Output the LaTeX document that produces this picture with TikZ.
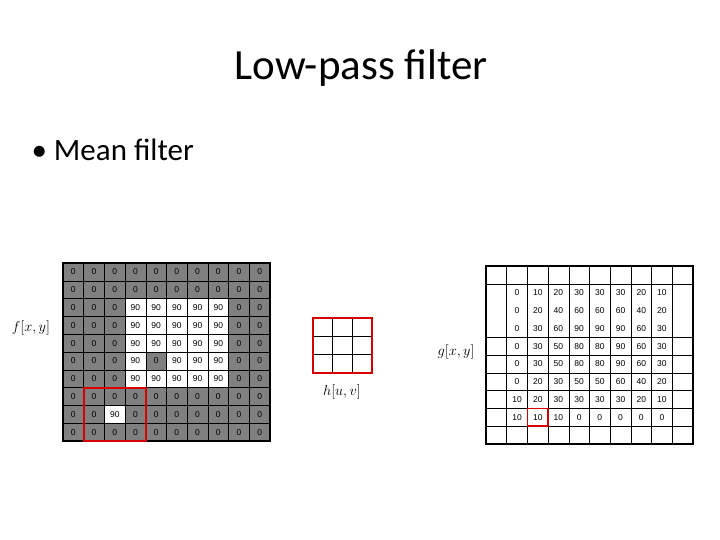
\documentclass[tikz,border=0pt]{standalone}
\usepackage{fontspec}
\setmainfont{Carlito}
\newfontfamily\numf{Liberation Sans}
\begin{document}
\begin{tikzpicture}[x=1pt,y=-1pt,
  num/.style={font=\numf\fontsize{8.5}{9}\selectfont},
  lab/.style={font=\fontsize{14}{16}\selectfont},
  redbox/.style={draw=red!85!black,line width=2pt}]
\useasboundingbox (0,0) rectangle (720,540);
\node (title) at (361,68) {\fontsize{43}{48}\selectfont Low-pass filter};
\node[anchor=west] (bullet) at (28,150) {\fontsize{31}{34}\selectfont \textbullet\ Mean filter};
% left grid
\def\cw{20.7}\def\ch{17.8}
\fill[black!50] (63,263) rectangle +(207,178);
\foreach \r in {2,...,6}{\foreach \c in {3,...,7}{\fill[white] ({63+\c*\cw},{263+\r*\ch}) rectangle +(\cw,\ch);}}
\fill[black!50] ({63+4*\cw},{263+5*\ch}) rectangle +(\cw,\ch);
\fill[white] ({63+2*\cw},{263+8*\ch}) rectangle +(\cw,\ch);
\foreach \i in {0,...,10}{
  \draw[line width=0.6pt] ({63+\i*\cw},263) -- ({63+\i*\cw},441);
  \draw[line width=0.6pt] (63,{263+\i*\ch}) -- (270,{263+\i*\ch});}
\draw[line width=1.5pt] (63,263) rectangle (270,441);
\foreach \r in {0,...,9}{\foreach \c in {0,...,9}{
  \pgfmathsetmacro\v{0}
  \ifnum\r>1\ifnum\r<7\ifnum\c>2\ifnum\c<8\def\v{90}\fi\fi\fi\fi
  \ifnum\r=5\ifnum\c=4\def\v{0}\fi\fi
  \ifnum\r=8\ifnum\c=2\def\v{90}\fi\fi
  \node[num] at ({63+(\c+0.5)*\cw},{263+(\r+0.5)*\ch}) {\v};}}
\draw[redbox] (83.7,388) rectangle (145.8,441);
\node[lab] (f) at (31,328) {$f[x,y]$};
% h
\foreach \i in {1,2}{
  \draw[line width=0.6pt] ({313+\i*19.7},318) -- ({313+\i*19.7},373);
  \draw[line width=0.6pt] (313,{318+\i*18.3}) -- (372,{318+\i*18.3});}
\draw[redbox,line width=1.8pt] (313,318) rectangle (372,373);
\node[lab] (h) at (342,392) {$h[u,v]$};
% right grid
\node[lab] (g) at (456,352) {$g[x,y]$};
\foreach \i in {1,...,9}{\draw[line width=0.6pt] ({486+\i*\cw},266) -- ({486+\i*\cw},444);}
\foreach \i in {1,4,5,6,7,8,9}{\draw[line width=0.6pt] (486,{266+\i*\ch}) -- (693,{266+\i*\ch});}
\draw[line width=1.5pt] (486,266) rectangle (693,444);
\def\rows{{0,10,20,30,30,30,20,10},{0,20,40,60,60,60,40,20},{0,30,60,90,90,90,60,30},{0,30,50,80,80,90,60,30},{0,30,50,80,80,90,60,30},{0,20,30,50,50,60,40,20},{10,20,30,30,30,30,20,10},{10,10,10,0,0,0,0,0}}
\foreach \row [count=\r] in \rows{
  \foreach \v [count=\c] in \row{
    \node[num] at ({486+(\c+0.5)*\cw},{266+(\r+0.5)*\ch}) {\v};}}
\draw[redbox,line width=1.6pt] ({486+2*\cw},{266+8*\ch}) rectangle +(\cw,\ch);
\end{tikzpicture}
\end{document}
